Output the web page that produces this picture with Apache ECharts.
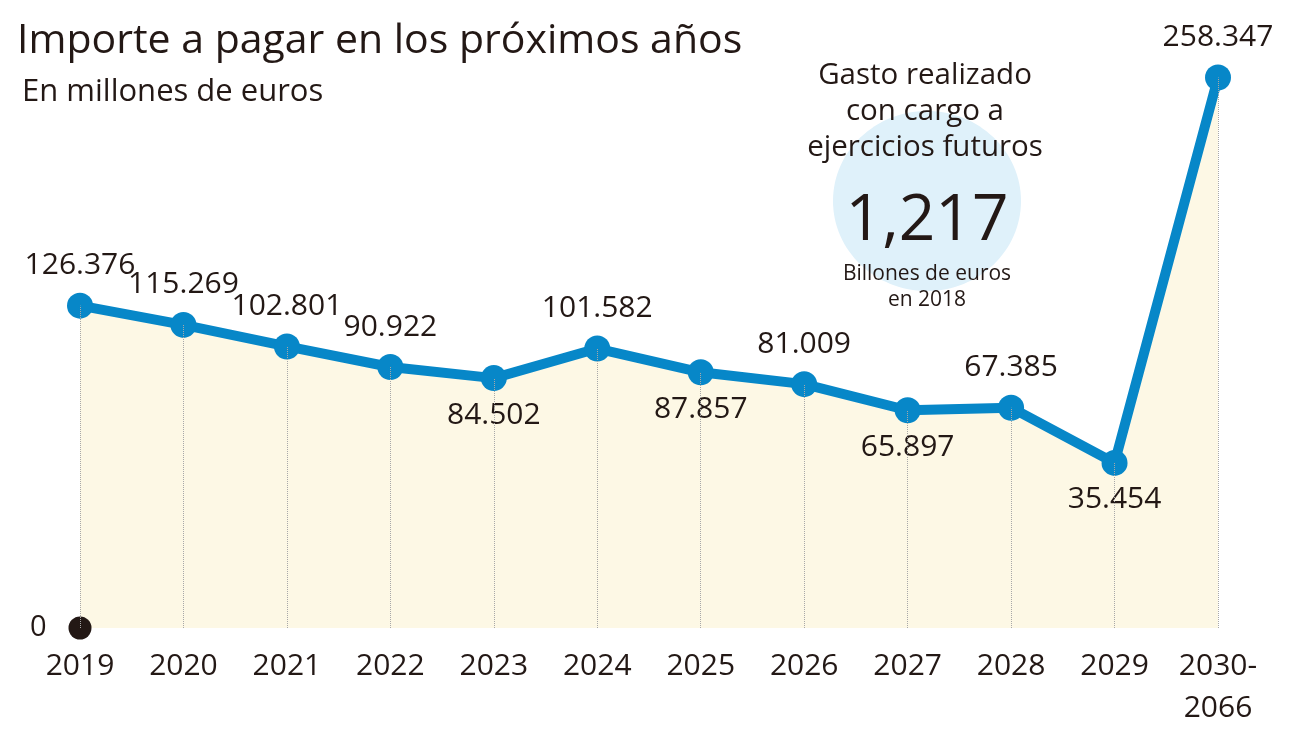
<!DOCTYPE html>
<html>
<head>
<meta charset="utf-8">
<script src="https://cdn.jsdelivr.net/npm/echarts@6/dist/echarts.min.js"></script>
<style>html,body{margin:0;padding:0;background:#fff}#c{width:1293px;height:729px}</style>
</head>
<body>
<div id="c"></div>
<script>
const categories = ['2019','2020','2021','2022','2023','2024','2025','2026','2027','2028','2029','2030-\n2066'];
const values = [126376,115269,102801,90922,84502,101582,87857,81009,65897,67385,35454,258347];
const labelPositions = ['top','top','top','top','bottom','top','bottom','top','bottom','top','bottom','top'];
const titleText = 'Importe a pagar en los próximos años';
const subtitleText = 'En millones de euros';
const noteLines = ['Gasto realizado','con cargo a','ejercicios futuros'];
const noteValue = '1,217';
const noteUnitLines = ['Billones de euros','en 2018'];

const Y_MIN = -60000, Y_MAX = 280000;
const FONT = '"Open Sans", "Noto Sans", sans-serif';
const INK = '#231815';
const BLUE = '#0787c8';

function fmt(v){
  const s = String(Math.round(v));
  return s.replace(/\B(?=(\d{3})+(?!\d))/g, '.');
}

const chart = echarts.init(document.getElementById('c'));
const lineData = values.map((v,i)=>({
  value: v,
  label: {position: labelPositions[i], distance: labelPositions[i]==='top'?12:9}
}));
const dropLines = values.map((v,i)=>[{coord:[i, Y_MIN]},{coord:[i, v]}]);

chart.setOption({
  animation:false,
  grid:{left:80,right:75,top:40,bottom:99},
  xAxis:{
    type:'category', data:categories, boundaryGap:false,
    axisLine:{show:false}, axisTick:{show:false}, splitLine:{show:false},
    axisLabel:{color:INK, fontFamily:FONT, fontSize:30, margin:17, lineHeight:42, interval:0, verticalAlign:'top'}
  },
  yAxis:{
    type:'value', min:Y_MIN, max:Y_MAX, show:false
  },
  graphic:[
    {type:'text', left:17, top:21, style:{text:titleText, fontFamily:FONT, fontSize:41, fill:INK}},
    {type:'text', left:22, top:77, style:{text:subtitleText, fontFamily:FONT, fontSize:31, fill:INK}},
    {type:'ellipse', shape:{cx:927, cy:201, rx:94, ry:90}, style:{fill:'#dff1fa'}, z:0},
    {type:'text', x:925, y:76, style:{text:noteLines[0], fontFamily:FONT, fontSize:29.5, fill:INK, align:'center', verticalAlign:'middle'}},
    {type:'text', x:925, y:112, style:{text:noteLines[1], fontFamily:FONT, fontSize:29.5, fill:INK, align:'center', verticalAlign:'middle'}},
    {type:'text', x:925, y:148, style:{text:noteLines[2], fontFamily:FONT, fontSize:29.5, fill:INK, align:'center', verticalAlign:'middle'}},
    {type:'text', x:927, y:222, style:{text:noteValue, fontFamily:FONT, fontSize:64, fill:INK, align:'center', verticalAlign:'middle'}},
    {type:'text', x:927, y:274, style:{text:noteUnitLines[0], fontFamily:FONT, fontSize:21, fill:INK, align:'center', verticalAlign:'middle'}},
    {type:'text', x:927, y:300, style:{text:noteUnitLines[1], fontFamily:FONT, fontSize:21, fill:INK, align:'center', verticalAlign:'middle'}}
  ],
  series:[
    {type:'line', data:values, z:1, symbol:'none', silent:true,
     lineStyle:{width:0}, areaStyle:{color:'#fdf8e5', origin:'start', opacity:1}},
    {type:'line', data:[], z:2, silent:true,
     markLine:{silent:true, symbol:'none', label:{show:false},
       lineStyle:{type:'dotted', color:'#a8a8a8', width:1}, data:dropLines}},
    {type:'line', data:lineData, z:3, symbol:'circle', symbolSize:26,
     itemStyle:{color:BLUE}, lineStyle:{color:BLUE, width:10},
     label:{show:true, color:INK, fontFamily:FONT, fontSize:30, formatter:p=>fmt(p.value)}},
    {type:'scatter', data:[[0, Y_MIN]], z:4, symbolSize:23, itemStyle:{color:INK, opacity:1},
     label:{show:true, position:'left', distance:22, formatter:'0', color:INK, fontFamily:FONT, fontSize:29}}
  ]
});
</script>
</body>
</html>
